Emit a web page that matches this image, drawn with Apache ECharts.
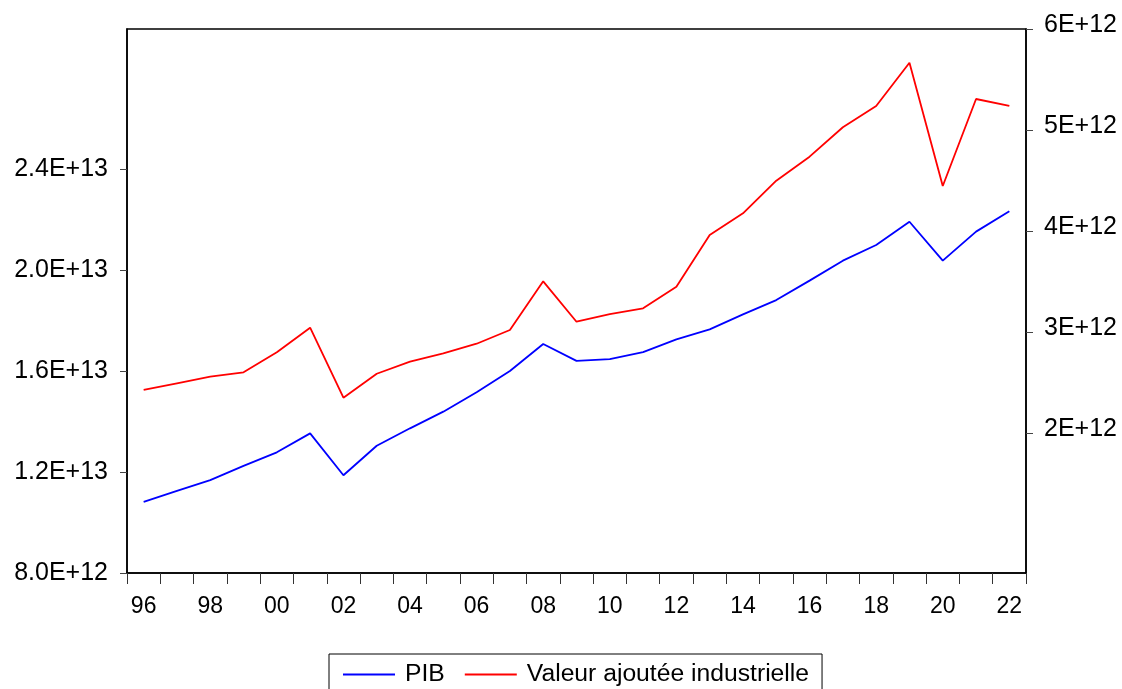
<!DOCTYPE html>
<html>
<head>
<meta charset="utf-8">
<title>PIB et valeur ajoutée industrielle</title>
<script src="https://cdn.jsdelivr.net/npm/echarts@6/dist/echarts.min.js"></script>
<style>
  html, body { margin: 0; padding: 0; background: #fff; }
  #chart { width: 1122px; height: 689px; }
</style>
</head>
<body>
<div id="chart"></div>
<script>
// Years on the horizontal axis
const years = [1996, 1997, 1998, 1999, 2000, 2001, 2002, 2003, 2004, 2005, 2006, 2007, 2008,
               2009, 2010, 2011, 2012, 2013, 2014, 2015, 2016, 2017, 2018, 2019, 2020, 2021, 2022];

// PIB (left scale)
const pib = [1.082e13, 1.125e13, 1.168e13, 1.224e13, 1.278e13, 1.353e13, 1.187e13, 1.304e13, 1.373e13,
             1.439e13, 1.516e13, 1.600e13, 1.707e13, 1.640e13, 1.647e13, 1.675e13, 1.725e13, 1.765e13,
             1.824e13, 1.881e13, 1.958e13, 2.037e13, 2.099e13, 2.191e13, 2.037e13, 2.152e13, 2.233e13];

// Valeur ajoutée industrielle (right scale)
const vai = [2.426e12, 2.492e12, 2.558e12, 2.601e12, 2.799e12, 3.043e12, 2.350e12, 2.587e12, 2.706e12,
             2.789e12, 2.884e12, 3.020e12, 3.502e12, 3.102e12, 3.178e12, 3.235e12, 3.449e12, 3.960e12,
             4.175e12, 4.498e12, 4.736e12, 5.027e12, 5.238e12, 5.666e12, 4.446e12, 5.307e12, 5.238e12];

// Tick values and their printed labels
const leftTicks = [8.0e12, 1.2e13, 1.6e13, 2.0e13, 2.4e13];
const leftTickLabels = ['8.0E+12', '1.2E+13', '1.6E+13', '2.0E+13', '2.4E+13'];
const rightTicks = [2e12, 3e12, 4e12, 5e12, 6e12];
const rightTickLabels = ['2E+12', '3E+12', '4E+12', '5E+12', '6E+12'];

const seriesNames = ['PIB', 'Valeur ajoutée industrielle'];

const FONT = '"Liberation Sans", Arial, sans-serif';

function labelFor(ticks, labels) {
  return function (v) {
    for (let i = 0; i < ticks.length; i++) {
      if (Math.abs(ticks[i] - v) < ticks[i] * 1e-6) return labels[i];
    }
    return '';
  };
}

const chart = echarts.init(document.getElementById('chart'), null, { renderer: 'canvas' });

chart.setOption({
  animation: false,
  backgroundColor: '#ffffff',
  textStyle: { fontFamily: FONT, color: '#000' },
  grid: {
    left: 127, right: 96, top: 29, bottom: 116,
    show: true, borderColor: '#000', borderWidth: 1.5, backgroundColor: 'transparent'
  },
  legend: {
    left: 329, top: 654,
    padding: [8, 13, 12, 14],
    borderColor: '#000', borderWidth: 1,
    icon: 'rect',
    itemWidth: 52, itemHeight: 2, itemGap: 20,
    textStyle: { fontFamily: FONT, fontSize: 24.7, color: '#000', padding: [0, 0, 0, 5] },
    data: seriesNames
  },
  xAxis: {
    type: 'category',
    data: years,
    boundaryGap: true,
    axisLine: { show: true, lineStyle: { color: '#000', width: 1.5 } },
    axisTick: { show: true, interval: 0, length: 11, inside: false, lineStyle: { color: '#333', width: 1 } },
    axisLabel: {
      interval: 1, margin: 22, fontSize: 23, fontFamily: FONT, color: '#000',
      formatter: v => String(v).slice(2)
    },
    splitLine: { show: false }
  },
  yAxis: [
    {
      type: 'value', position: 'left',
      min: 8.0e12, max: 2.9545e13,
      axisLine: { show: true, lineStyle: { color: '#000', width: 1.5 } },
      axisTick: { show: true, length: 7, inside: false, customValues: leftTicks, lineStyle: { color: '#444' } },
      axisLabel: {
        customValues: leftTicks, margin: 19, fontSize: 25, fontFamily: FONT, color: '#000',
        verticalAlign: 'middle',
        formatter: labelFor(leftTicks, leftTickLabels)
      },
      splitLine: { show: false }
    },
    {
      type: 'value', position: 'right',
      min: 0.614e12, max: 6e12,
      axisLine: { show: true, lineStyle: { color: '#000', width: 1.5 } },
      axisTick: { show: true, length: 7, inside: false, customValues: rightTicks, lineStyle: { color: '#444' } },
      axisLabel: {
        customValues: rightTicks, margin: 18, fontSize: 25, fontFamily: FONT, color: '#000',
        verticalAlign: 'bottom', lineHeight: 8,
        formatter: labelFor(rightTicks, rightTickLabels)
      },
      splitLine: { show: false }
    }
  ],
  series: [
    {
      name: seriesNames[0], type: 'line', yAxisIndex: 0, data: pib,
      symbol: 'none', color: '#0000ff',
      lineStyle: { color: '#0000ff', width: 1.8 }
    },
    {
      name: seriesNames[1], type: 'line', yAxisIndex: 1, data: vai,
      symbol: 'none', color: '#ff0000',
      lineStyle: { color: '#ff0000', width: 1.8 }
    }
  ]
});
</script>
</body>
</html>
